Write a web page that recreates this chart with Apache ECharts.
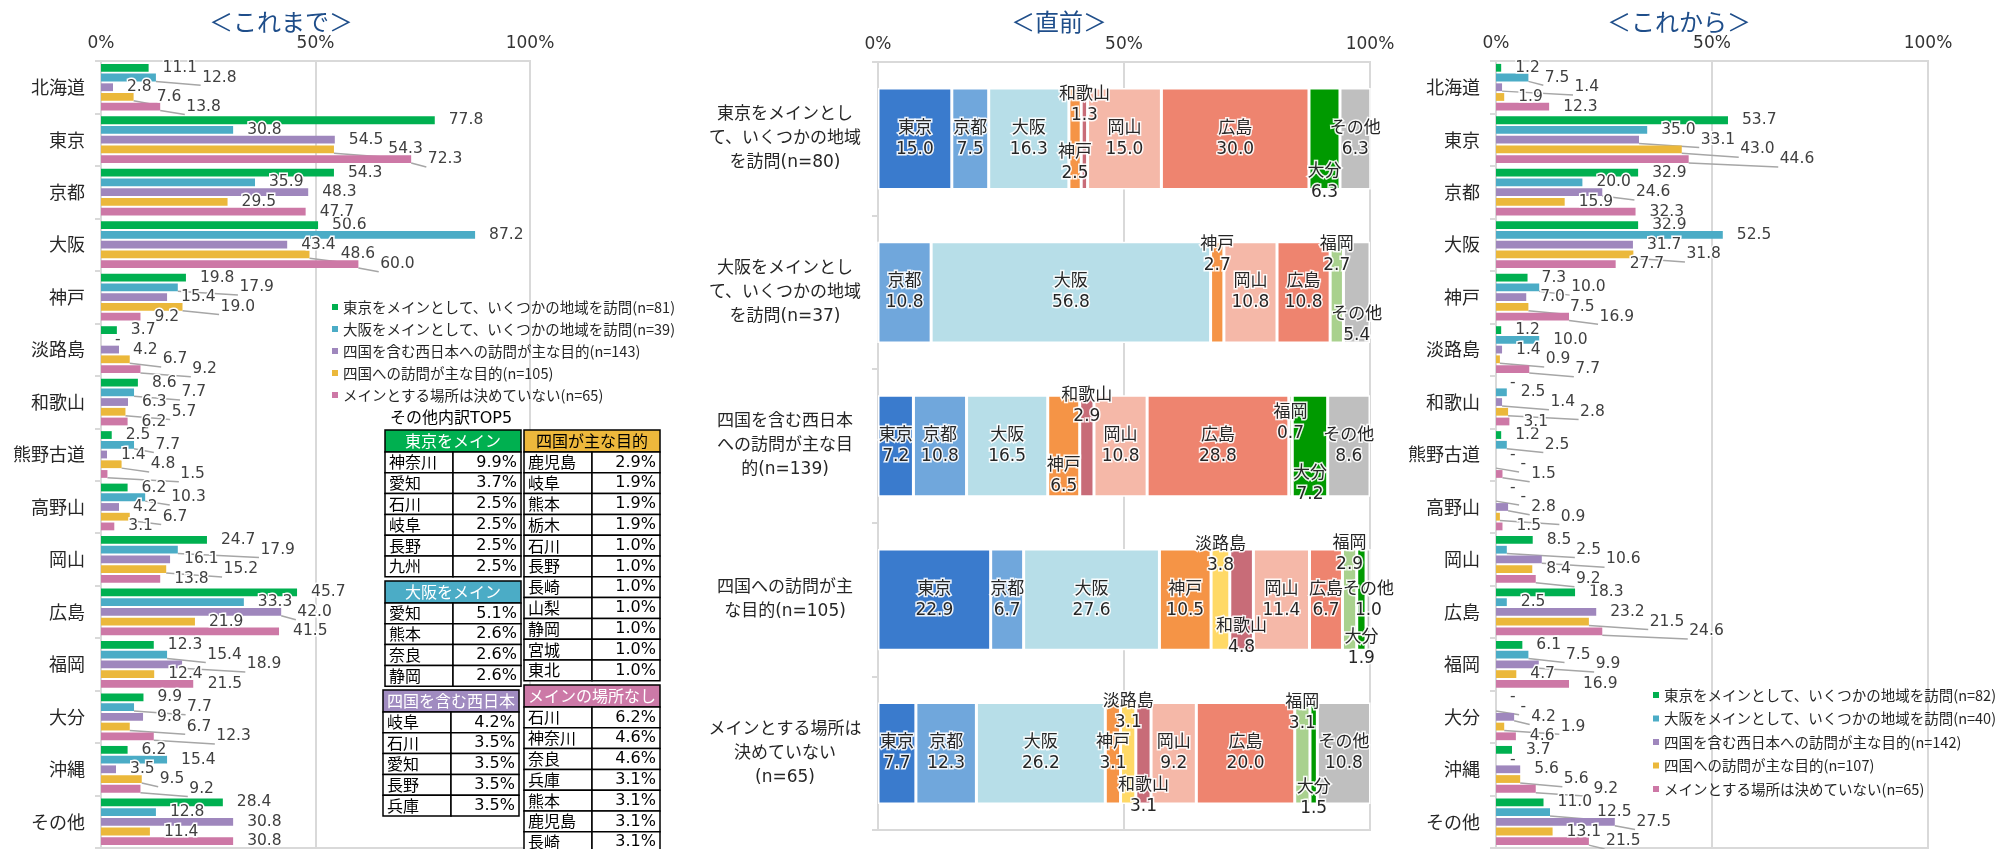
<!DOCTYPE html>
<html>
<head>
<meta charset="utf-8">
<script src="https://cdn.jsdelivr.net/npm/echarts/dist/echarts.min.js"></script>
<style>
html, body { margin: 0; padding: 0; background: #fff; }
#main { width: 2000px; height: 849px; }
</style>
</head>
<body>
<div id="main"></div>
<script>
// ---- data ----
const places = ['北海道', '東京', '京都', '大阪', '神戸', '淡路島', '和歌山', '熊野古道', '高野山', '岡山', '広島', '福岡', '大分', '沖縄', 'その他'];

// これまで
const pastNames = [
  '東京をメインとして、いくつかの地域を訪問(n=81)',
  '大阪をメインとして、いくつかの地域を訪問(n=39)',
  '四国を含む西日本への訪問が主な目的(n=143)',
  '四国への訪問が主な目的(n=105)',
  'メインとする場所は決めていない(n=65)'
];
const pastTokyo   = [11.1, 77.8, 54.3, 50.6, 19.8, 3.7, 8.6, 2.5, 6.2, 24.7, 45.7, 12.3, 9.9, 6.2, 28.4];
const pastOsaka   = [12.8, 30.8, 35.9, 87.2, 17.9, 0, 7.7, 7.7, 10.3, 17.9, 33.3, 15.4, 7.7, 15.4, 12.8];
const pastWest    = [2.8, 54.5, 48.3, 43.4, 15.4, 4.2, 6.3, 1.4, 4.2, 16.1, 42.0, 18.9, 9.8, 3.5, 30.8];
const pastShikoku = [7.6, 54.3, 29.5, 48.6, 19.0, 6.7, 5.7, 4.8, 6.7, 15.2, 21.9, 12.4, 6.7, 9.5, 11.4];
const pastNone    = [13.8, 72.3, 47.7, 60.0, 9.2, 9.2, 6.2, 1.5, 3.1, 13.8, 41.5, 21.5, 12.3, 9.2, 30.8];

// これから
const futureNames = [
  '東京をメインとして、いくつかの地域を訪問(n=82)',
  '大阪をメインとして、いくつかの地域を訪問(n=40)',
  '四国を含む西日本への訪問が主な目的(n=142)',
  '四国への訪問が主な目的(n=107)',
  'メインとする場所は決めていない(n=65)'
];
const futureTokyo   = [1.2, 53.7, 32.9, 32.9, 7.3, 1.2, 0, 1.2, 0, 8.5, 18.3, 6.1, 0, 3.7, 11.0];
const futureOsaka   = [7.5, 35.0, 20.0, 52.5, 10.0, 10.0, 2.5, 2.5, 0, 2.5, 2.5, 7.5, 0, 0, 12.5];
const futureWest    = [1.4, 33.1, 24.6, 31.7, 7.0, 1.4, 1.4, 0, 2.8, 10.6, 23.2, 9.9, 4.2, 5.6, 27.5];
const futureShikoku = [1.9, 43.0, 15.9, 31.8, 7.5, 0.9, 2.8, 0, 0.9, 8.4, 21.5, 4.7, 1.9, 5.6, 13.1];
const futureNone    = [12.3, 44.6, 32.3, 27.7, 16.9, 7.7, 3.1, 1.5, 1.5, 9.2, 24.6, 16.9, 4.6, 9.2, 21.5];

// 直前
const groups = [
  '東京をメインとし\nて、いくつかの地域\nを訪問(n=80)',
  '大阪をメインとし\nて、いくつかの地域\nを訪問(n=37)',
  '四国を含む西日本\nへの訪問が主な目\n的(n=139)',
  '四国への訪問が主\nな目的(n=105)',
  'メインとする場所は\n決めていない\n(n=65)'
];
const dests = ['東京', '京都', '大阪', '神戸', '淡路島', '和歌山', '岡山', '広島', '福岡', '大分', 'その他'];
const beforeTokyo   = [15.0, 0, 7.2, 22.9, 7.7];
const beforeKyoto   = [7.5, 10.8, 10.8, 6.7, 12.3];
const beforeOsaka   = [16.3, 56.8, 16.5, 27.6, 26.2];
const beforeKobe    = [2.5, 2.7, 6.5, 10.5, 3.1];
const beforeAwaji   = [0, 0, 0, 3.8, 3.1];
const beforeWakayama = [1.3, 0, 2.9, 4.8, 3.1];
const beforeOkayama = [15.0, 10.8, 10.8, 11.4, 9.2];
const beforeHiroshima = [30.0, 10.8, 28.8, 6.7, 20.0];
const beforeFukuoka = [0, 2.7, 0.7, 2.9, 3.1];
const beforeOita    = [6.3, 0, 7.2, 1.9, 1.5];
const beforeOther   = [6.3, 5.4, 8.6, 1.0, 10.8];
const beforeAll = [beforeTokyo, beforeKyoto, beforeOsaka, beforeKobe, beforeAwaji, beforeWakayama,
  beforeOkayama, beforeHiroshima, beforeFukuoka, beforeOita, beforeOther];

// その他内訳TOP5
const otherTokyo = [['神奈川', '9.9%'], ['愛知', '3.7%'], ['石川', '2.5%'], ['岐阜', '2.5%'], ['長野', '2.5%'], ['九州', '2.5%']];
const otherOsaka = [['愛知', '5.1%'], ['熊本', '2.6%'], ['奈良', '2.6%'], ['静岡', '2.6%']];
const otherWest = [['岐阜', '4.2%'], ['石川', '3.5%'], ['愛知', '3.5%'], ['長野', '3.5%'], ['兵庫', '3.5%']];
const otherShikoku = [['鹿児島', '2.9%'], ['岐阜', '1.9%'], ['熊本', '1.9%'], ['栃木', '1.9%'], ['石川', '1.0%'], ['長野', '1.0%'],
  ['長崎', '1.0%'], ['山梨', '1.0%'], ['静岡', '1.0%'], ['宮城', '1.0%'], ['東北', '1.0%']];
const otherNone = [['石川', '6.2%'], ['神奈川', '4.6%'], ['奈良', '4.6%'], ['兵庫', '3.1%'], ['熊本', '3.1%'], ['鹿児島', '3.1%'], ['長崎', '3.1%']];

// ---- styles / layout ----
const FONT = "'DejaVu Sans', 'Noto Sans CJK JP', sans-serif";
const JFONT = "'Noto Sans CJK JP', sans-serif";
const groupColors = ['#00B050', '#4BACC6', '#9F87BD', '#EBB83B', '#CD78A6'];
const destColors = ['#3A7BCD', '#70A7DC', '#B7DEE8', '#F59446', '#FFD966', '#C86C78', '#F5B8A8', '#EE846F', '#A9D18E', '#009A00', '#BFBFBF'];

// vertical nudges (px) of labels on thin segments: [row, destIndex, dy]
const beforeNudge = [
  [0, 5, -34], [0, 3, 24], [0, 9, 43],
  [1, 3, -37], [1, 8, -37], [1, 10, 33],
  [2, 5, -40], [2, 3, 30], [2, 8, -23], [2, 9, 38],
  [3, 4, -45], [3, 5, 37], [3, 8, -46], [3, 9, 48],
  [4, 4, -41], [4, 5, 43], [4, 8, -40], [4, 9, 45]
];

const gridL = { left: 101, top: 61, width: 429, height: 787 };
const gridM = { left: 878, top: 62, width: 492, height: 768 };
const gridR = { left: 1496, top: 61, width: 432, height: 787 };

const LBL_SIZE = 15.5, LBL_DIST = 14;
const ctx = document.createElement('canvas').getContext('2d');
ctx.font = LBL_SIZE + 'px ' + FONT;
const fmt = v => (v === 0 ? '-' : v.toFixed(1));

// push a label right when it would collide with the label of the bar just above
function labelShifts(sets, k) {
  const out = sets.map(() => new Array(places.length).fill(0));
  for (let j = 0; j < places.length; j++) {
    let prevStart = null, prevEnd = null;
    sets.forEach((vals, s) => {
      const w = ctx.measureText(fmt(vals[j])).width + 2;
      const natural = vals[j] * k + LBL_DIST;
      let start = natural;
      if (prevStart !== null && natural < prevEnd + 3 && natural + w + 3 > prevStart) {
        start = prevEnd + 3;
      }
      out[s][j] = start - natural;
      prevStart = start;
      prevEnd = start + w;
    });
  }
  return out;
}

function groupSeries(sets, names, axisIdx, k) {
  const shifts = labelShifts(sets, k);
  return sets.map((vals, s) => ({
    type: 'bar',
    name: names[s],
    xAxisIndex: axisIdx,
    yAxisIndex: axisIdx,
    barGap: '25%',
    barCategoryGap: '11%',
    itemStyle: { color: groupColors[s] },
    label: {
      show: true,
      position: 'right',
      distance: LBL_DIST,
      fontSize: LBL_SIZE,
      fontFamily: FONT,
      color: '#404040',
      textBorderColor: '#fff',
      textBorderWidth: 3,
      formatter: p => fmt(p.value)
    },
    labelLine: { lineStyle: { color: '#A6A6A6', width: 1.5 } },
    data: vals.map((v, j) => ({
      value: v,
      label: { offset: [shifts[s][j], 0] },
      labelLine: { show: shifts[s][j] > 2 }
    }))
  }));
}

function beforeSeries() {
  return beforeAll.map((vals, d) => ({
    type: 'bar',
    name: dests[d],
    xAxisIndex: 1,
    yAxisIndex: 1,
    stack: 'before',
    barCategoryGap: '34%',
    itemStyle: { color: destColors[d], borderColor: '#fff', borderWidth: 1.5 },
    label: {
      show: true,
      position: 'inside',
      fontSize: 17,
      lineHeight: 21,
      fontFamily: FONT,
      color: '#262626',
      textBorderColor: 'rgba(255,255,255,0.9)',
      textBorderWidth: 3,
      formatter: p => dests[d] + '\n' + p.value.toFixed(1)
    },
    data: vals.map((v, r) => {
      const n = beforeNudge.find(e => e[0] === r && e[1] === d);
      return { value: v, label: { show: v > 0, offset: [0, n ? n[2] : 0] } };
    })
  }));
}

function valueAxis(gi) {
  return {
    gridIndex: gi, type: 'value', position: 'top', min: 0, max: 100, interval: 50,
    axisLabel: { formatter: '{value}%', fontSize: 17, color: '#333', margin: 9, fontFamily: FONT },
    axisLine: { show: false }, axisTick: { show: false },
    splitLine: { lineStyle: { color: '#D9D9D9', width: 2 } }
  };
}
function catAxis(gi, data, labelOpt) {
  return {
    gridIndex: gi, type: 'category', data: data, inverse: true,
    axisLine: { lineStyle: { color: '#D9D9D9', width: 2 } },
    axisTick: { show: true, length: 6, lineStyle: { color: '#D9D9D9', width: 2 } },
    axisLabel: Object.assign({ color: '#262626', fontFamily: FONT }, labelOpt)
  };
}
function legend(names, left, top, gap) {
  return {
    data: names, orient: 'vertical', left: left, top: top, itemGap: gap,
    icon: 'rect', itemWidth: 6, itemHeight: 6,
    selectedMode: false,
    textStyle: { fontSize: 14.5, color: '#262626', fontFamily: JFONT, lineHeight: 16 }
  };
}

// tables
const tables = [
  { x: 385, y: 430, head: '東京をメイン', fill: '#00B050', ink: '#fff', rows: otherTokyo },
  { x: 385, y: 581, head: '大阪をメイン', fill: '#4BACC6', ink: '#fff', rows: otherOsaka },
  { x: 383, y: 690, head: '四国を含む西日本', fill: '#A08BC0', ink: '#fff', rows: otherWest },
  { x: 524, y: 430, head: '四国が主な目的', fill: '#EDB83C', ink: '#000', rows: otherShikoku },
  { x: 524, y: 685, head: 'メインの場所なし', fill: '#CC79A7', ink: '#fff', rows: otherNone }
];
const COL = 68, HEAD_H = 22, ROW_H = 20.8;
const graphics = [];
tables.forEach(t => {
  graphics.push({ type: 'rect', z: 100, shape: { x: t.x, y: t.y, width: COL * 2, height: HEAD_H },
    style: { fill: t.fill, stroke: '#000', lineWidth: 1.5 } });
  graphics.push({ type: 'text', z: 101, x: t.x + COL, y: t.y + HEAD_H / 2,
    style: { text: t.head, fill: t.ink, font: '16px ' + JFONT, align: 'center', verticalAlign: 'middle' } });
  t.rows.forEach((r, i) => {
    const y = t.y + HEAD_H + i * ROW_H;
    graphics.push({ type: 'rect', z: 100, shape: { x: t.x, y: y, width: COL, height: ROW_H },
      style: { fill: '#fff', stroke: '#000', lineWidth: 1.5 } });
    graphics.push({ type: 'rect', z: 100, shape: { x: t.x + COL, y: y, width: COL, height: ROW_H },
      style: { fill: '#fff', stroke: '#000', lineWidth: 1.5 } });
    graphics.push({ type: 'text', z: 101, x: t.x + 4, y: y + ROW_H / 2,
      style: { text: r[0], fill: '#000', font: '16px ' + JFONT, align: 'left', verticalAlign: 'middle' } });
    graphics.push({ type: 'text', z: 101, x: t.x + 2 * COL - 4, y: y + ROW_H / 2,
      style: { text: r[1], fill: '#000', font: '16px ' + FONT, align: 'right', verticalAlign: 'middle' } });
  });
});
graphics.push({ type: 'text', z: 101, x: 390, y: 419,
  style: { text: 'その他内訳TOP5', fill: '#000', font: '16px ' + FONT, align: 'left', verticalAlign: 'middle' } });
[['＜これまで＞', 281], ['＜直前＞', 1059], ['＜これから＞', 1679]].forEach(t => {
  graphics.push({ type: 'text', x: t[1], y: 22,
    style: { text: t[0], fill: '#1F4E8A', font: '24px ' + JFONT, align: 'center', verticalAlign: 'middle' } });
});

const chart = echarts.init(document.getElementById('main'), null, { renderer: 'canvas' });
const gridBase = { show: true, borderColor: '#D9D9D9', borderWidth: 2, containLabel: false, outerBoundsMode: 'none' };
chart.setOption({
  animation: false,
  backgroundColor: '#fff',
  textStyle: { fontFamily: FONT },
  grid: [Object.assign({}, gridBase, gridL), Object.assign({}, gridBase, gridM), Object.assign({}, gridBase, gridR)],
  xAxis: [valueAxis(0), valueAxis(1), valueAxis(2)],
  yAxis: [
    catAxis(0, places, { fontSize: 18, margin: 16, fontFamily: JFONT }),
    catAxis(1, groups, { fontSize: 17, lineHeight: 24, align: 'center', margin: 93 }),
    catAxis(2, places, { fontSize: 18, margin: 16, fontFamily: JFONT })
  ],
  legend: [legend(pastNames, 327, 294, 6), legend(futureNames, 1648, 682, 7.5)],
  series: [].concat(
    groupSeries([pastTokyo, pastOsaka, pastWest, pastShikoku, pastNone], pastNames, 0, gridL.width / 100),
    beforeSeries(),
    groupSeries([futureTokyo, futureOsaka, futureWest, futureShikoku, futureNone], futureNames, 2, gridR.width / 100)
  ),
  graphic: { elements: graphics }
});
</script>
</body>
</html>
